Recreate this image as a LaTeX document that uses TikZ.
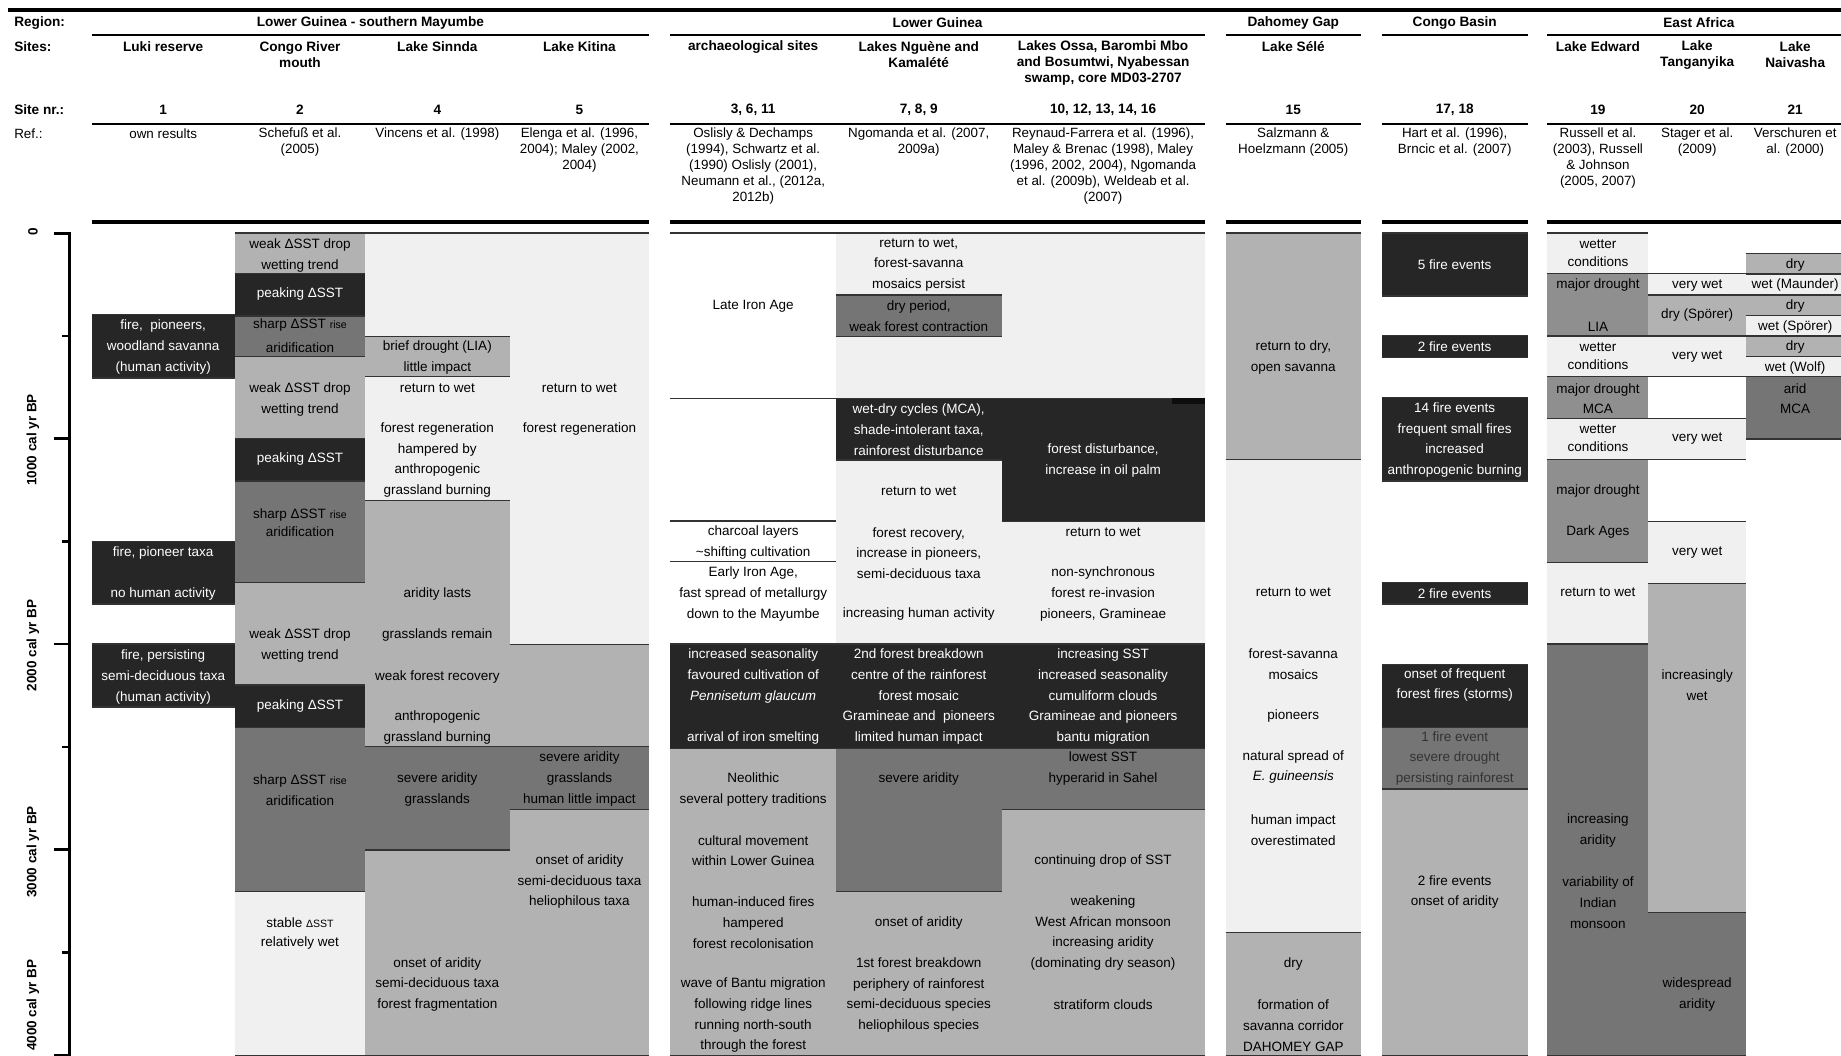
\documentclass[tikz,border=0pt]{standalone}
\usepackage{fontspec}
\setmainfont{Liberation Sans}

\definecolor{cLt}{gray}{0.94}
\definecolor{cMl}{gray}{0.70}
\definecolor{cDr}{gray}{0.56}
\definecolor{cMd}{gray}{0.46}
\definecolor{cDk}{gray}{0.15}

\newcommand{\smalltxt}[1]{{\fontsize{9}{10}\selectfont #1}}

\tikzset{
  sep/.style={draw=black!80, line width=1.2pt},
  txt/.style={align=center, inner sep=0pt, font=\fontsize{11.5}{17.6}\selectfont},
  tb/.style={txt},
  tw/.style={txt, text=white},
  tg/.style={txt, text=black!80},
  head/.style={align=center, inner sep=0pt, font=\bfseries\fontsize{11.6}{13.6}\selectfont},
  ref/.style={align=center, inner sep=0pt, font=\fontsize{11.4}{13.6}\selectfont},
  axl/.style={rotate=90, inner sep=0pt, font=\bfseries\fontsize{11.5}{12}\selectfont}
}

\begin{document}
\begin{tikzpicture}[x=1pt,y=-1pt]
\useasboundingbox (0,0) rectangle (1568,899);
\clip (0,0) rectangle (1568,899);
\fill[white] (0,0) rectangle (1568,899);

% header rules
\draw[line width=2.8pt] (7,8.5) -- (1568,8.5);
\foreach \xa/\xb in {78/553,571/1026,1044/1159,1177/1301,1318/1572} {
  \draw[line width=1.7pt] (\xa,29.8) -- (\xb,29.8);
  \draw[line width=1.7pt] (\xa,105.6) -- (\xb,105.6);
  \draw[line width=3.4pt] (\xa,188.8) -- (\xb,188.8);
}

% row labels
\node[head, anchor=west] (lab-region) at (12,19.5) {Region:};
\node[head, anchor=west] (lab-sites) at (12,39.8) {Sites:};
\node[head, anchor=west] (lab-nr) at (12,93.7) {Site nr.:};
\node[ref, anchor=west] (lab-ref) at (12,114.1) {Ref.:};

% regions
\foreach \x/\lab [count=\n] in {315.5/{Lower Guinea - southern Mayumbe}, 798.5/{Lower Guinea},
  1101.5/{Dahomey Gap}, 1239/{Congo Basin}, 1447/{East Africa}}
  \node[head] (region-\n) at (\x,19.5) {\lab};

% sites, numbers and references
\foreach \x/\ys/\site/\nr/\yr/\rf [count=\n] in {
  139/39.8/{Luki reserve}/1/114.1/{own results},
  255.5/46.6/{Congo River\\mouth}/2/120.9/{Schefuß et al.\\(2005)},
  372.5/39.8/{Lake Sinnda}/4/114.1/{Vincens et al. (1998)},
  493.5/39.8/{Lake Kitina}/5/127.7/{Elenga et al. (1996,\\2004); Maley (2002,\\2004)},
  641.5/39.8/{archaeological sites}/{3, 6, 11}/141.3/{Oslisly \& Dechamps\\(1994), Schwartz et al.\\(1990) Oslisly (2001),\\Neumann et al., (2012a,\\2012b)},
  782.5/46.6/{Lakes Nguène and\\Kamalété}/{7, 8, 9}/120.9/{Ngomanda et al. (2007,\\2009a)},
  939.5/53.4/{Lakes Ossa, Barombi Mbo\\and Bosumtwi, Nyabessan\\swamp, core MD03-2707}/{10, 12, 13, 14, 16}/141.3/{Reynaud-Farrera et al. (1996),\\Maley \& Brenac (1998), Maley\\(1996, 2002, 2004), Ngomanda\\et al. (2009b), Weldeab et al.\\(2007)},
  1101.5/39.8/{Lake Sélé}/15/120.9/{Salzmann \&\\Hoelzmann (2005)},
  1239/39.8/{}/{17, 18}/120.9/{Hart et al. (1996),\\Brncic et al. (2007)},
  1361/39.8/{Lake Edward}/19/134.5/{Russell et al.\\(2003), Russell\\\& Johnson\\(2005, 2007)},
  1445.5/46.6/{Lake\\Tanganyika}/20/120.9/{Stager et al.\\(2009)},
  1529/46.6/{Lake\\Naivasha}/21/120.9/{Verschuren et\\al. (2000)}} {
  \node[head] (site-\n) at (\x,\ys) {\site};
  \node[head] (nr-\n) at (\x,93.7) {\nr};
  \node[ref] (ref-\n) at (\x,\yr) {\rf};
}

% time axis
\draw[line width=2.5pt] (59,197.4) -- (59,899);
\foreach \t in {0,2,4,6,8}
  \draw[line width=2.3pt] (46,198.6+87.5*\t) -- (59,198.6+87.5*\t);
\foreach \t in {1,3,5,7}
  \draw[line width=2.3pt] (53,198.6+87.5*\t) -- (59,198.6+87.5*\t);
\node[axl] (ax-0) at (28,197) {0};
\foreach \k/\ty in {1/374.6, 2/549.6, 3/725.6, 4/856}
  \node[axl] (ax-\k) at (28,\ty) {\k000 cal yr BP};

% body boxes
\foreach \xa/\xb/\ya/\yb/\c in {
  % Luki reserve
  78/200/268/322/cDk, 78/200/461/514.5/cDk, 78/200/548.5/602/cDk,
  % Congo River mouth
  200/311/198.6/232.8/cMl, 200/311/232.8/269/cDk, 200/311/269/303.8/cMd,
  200/311/303.8/373.4/cMl, 200/311/373.4/409.7/cDk, 200/311/409.7/496.3/cMd,
  200/311/496.3/583.5/cMl, 200/311/583.5/619.8/cDk, 200/311/619.8/759.5/cMd,
  200/311/759.5/899/cLt,
  % Lake Sinnda
  311/434/198.6/286.8/cLt, 311/434/286.8/320.8/cMl, 311/434/320.8/426.5/cLt,
  311/434/426.5/636/cMl, 311/434/636/724/cMd, 311/434/724/899/cMl,
  % Lake Kitina
  434/553/198.6/548.8/cLt, 434/553/548.8/636/cMl, 434/553/636/689.4/cMd,
  434/553/689.4/899/cMl,
  % archaeological sites
  571/712/637.4/899/cMl,
  % Lakes Nguene and Kamalete
  712/853/198.6/251.3/cLt, 712/853/251.3/286.8/cMd, 712/853/286.8/339.3/cLt,
  712/853/339.3/391.8/cDk, 712/853/391.8/548.5/cLt, 712/853/637.4/759.5/cMd,
  712/853/759.5/899/cMl,
  % Lakes Ossa etc.
  853/1026/198.6/339.3/cLt, 853/1026/339.3/444.3/cDk, 853/1026/444.3/548.5/cLt,
  853/1026/637.4/689.4/cMd, 853/1026/689.4/899/cMl,
  % dark band across Lower Guinea
  571/1026/548.5/637.4/cDk,
  % Lake Sele
  1044/1159/198.6/391.2/cMl, 1044/1159/391.2/794.1/cLt, 1044/1159/794.1/899/cMl,
  % Congo Basin
  1177/1301/198.6/252.1/cDk, 1177/1301/285.9/304.4/cDk, 1177/1301/338.4/409.7/cDk,
  1177/1301/496/514.5/cDk, 1177/1301/565.9/619.8/cDk, 1177/1301/619.8/672/cMd,
  1177/1301/672/899/cMl,
  % Lake Edward
  1318/1404/198.6/232.8/cLt, 1318/1404/232.8/286.2/cDr, 1318/1404/286.2/320.8/cLt,
  1318/1404/320.8/356.3/cDr, 1318/1404/356.3/391.2/cLt, 1318/1404/391.2/479/cDr,
  1318/1404/479/548.5/cLt, 1318/1404/548.5/899/cMd,
  % Lake Tanganyika
  1404/1487/232.8/251.3/cLt, 1404/1487/251.3/286.2/cMl, 1404/1487/286.2/320.8/cLt,
  1404/1487/356.3/391.2/cLt, 1404/1487/444.3/496.9/cLt, 1404/1487/496.9/777.1/cMl,
  1404/1487/777.1/899/cMd,
  % Lake Naivasha
  1487/1572/215.8/233.4/cMl, 1487/1572/233.4/251.3/cLt, 1487/1572/251.3/268.9/cMl,
  1487/1572/268.9/286.2/cLt, 1487/1572/286.2/303.8/cMl, 1487/1572/303.8/320.8/cLt,
  1487/1572/320.8/374/cMd} {
  \fill[\c] (\xa,\ya) rectangle (\xb,\yb);
  \draw[sep] (\xa,\ya) -- (\xb,\ya) (\xa,\yb) -- (\xb,\yb);
}
\fill[black!95] (998,339.3) rectangle (1026,344.1);
% rules on the archaeology column
\draw[sep] (571,198.6) -- (712,198.6) (571,339.3) -- (712,339.3)
  (571,443.8) -- (712,443.8) (571,478.4) -- (712,478.4);

% Luki reserve
\foreach \y/\s/\lab [count=\n] in {
  295.5/tw/{fire,\ \ pioneers,\\woodland savanna\\(human activity)},
  470.8/tw/{fire, pioneer taxa}, 506/tw/{no human activity},
  576.5/tw/{fire, persisting\\semi-deciduous taxa\\(human activity)}}
  \node[\s] (luki-\n) at (139,\y) {\lab};

% Congo River mouth
\foreach \y/\s/\lab [count=\n] in {
  217.5/tb/{weak ΔSST drop\\wetting trend}, 250.5/tw/{peaking ΔSST},
  286/tb/{sharp ΔSST \smalltxt{rise}\\[2.4pt]aridification},
  340.3/tb/{weak ΔSST drop\\wetting trend}, 390.7/tw/{peaking ΔSST},
  445/tb/{sharp ΔSST \smalltxt{rise}\\[-2pt]aridification},
  549.5/tb/{weak ΔSST drop\\wetting trend}, 601/tw/{peaking ΔSST},
  673.2/tb/{sharp ΔSST \smalltxt{rise}\\aridification},
  795/tb/{stable \smalltxt{ΔSST}\\[-1.5pt]relatively wet}}
  \node[\s] (mouth-\n) at (255.5,\y) {\lab};

% Lake Sinnda
\foreach \y/\s/\lab [count=\n] in {
  304.4/tb/{brief drought (LIA)\\little impact}, 330.8/tb/{return to wet},
  391.9/tb/{forest regeneration\\hampered by\\anthropogenic\\grassland burning},
  506/tb/{aridity lasts}, 541/tb/{grasslands remain}, 577/tb/{weak forest recovery},
  619.8/tb/{anthropogenic\\grassland burning}, 672.6/tb/{severe aridity\\grasslands},
  838.4/tb/{onset of aridity\\semi-deciduous taxa\\forest fragmentation}}
  \node[\s] (sinnda-\n) at (372.5,\y) {\lab};

% Lake Kitina
\foreach \y/\s/\lab [count=\n] in {
  330.8/tb/{return to wet}, 365.7/tb/{forest regeneration},
  663.4/tb/{severe aridity\\grasslands\\human little impact},
  751/tb/{onset of aridity\\semi-deciduous taxa\\heliophilous taxa}}
  \node[\s] (kitina-\n) at (493.5,\y) {\lab};

% archaeological sites
\foreach \y/\s/\lab [count=\n] in {
  260.6/tb/{Late Iron Age},
  462.1/tb/{charcoal layers\\{\textasciitilde}shifting cultivation},
  505.9/tb/{Early Iron Age,\\fast spread of metallurgy\\down to the Mayumbe},
  593.3/tw/{increased seasonality\\favoured cultivation of\\\textit{Pennisetum glaucum}\\[17.6pt]arrival of iron smelting},
  672.2/tb/{Neolithic\\several pottery traditions},
  724.6/tb/{cultural movement\\within Lower Guinea},
  785.9/tb/{human-induced fires\\hampered\\forest recolonisation},
  864.7/tb/{wave of Bantu migration\\following ridge lines\\running north-south\\through the forest}}
  \node[\s] (arch-\n) at (641.5,\y) {\lab};

% Lakes Nguene and Kamalete
\foreach \y/\s/\lab [count=\n] in {
  225.5/tb/{return to wet,\\forest-savanna\\mosaics persist},
  269.5/tb/{dry period,\\weak forest contraction},
  365.9/tw/{wet-dry cycles (MCA),\\shade-intolerant taxa,\\rainforest disturbance},
  418.2/tb/{return to wet},
  470.9/tb/{forest recovery,\\increase in pioneers,\\semi-deciduous taxa},
  523.3/tb/{increasing human activity},
  593.3/tw/{2nd forest breakdown\\centre of the rainforest\\forest mosaic\\Gramineae and\ \ pioneers\\limited human impact},
  663.6/tb/{severe aridity}, 786/tb/{onset of aridity},
  847.4/tb/{1st forest breakdown\\periphery of rainforest\\semi-deciduous species\\heliophilous species}}
  \node[\s] (nguene-\n) at (782.5,\y) {\lab};

% Lakes Ossa etc.
\foreach \y/\s/\lab [count=\n] in {
  392.2/tw/{forest disturbance,\\increase in oil palm},
  453.4/tb/{return to wet},
  505.9/tb/{non-synchronous\\forest re-invasion\\pioneers, Gramineae},
  593.3/tw/{increasing SST\\increased seasonality\\cumuliform clouds\\Gramineae and pioneers\\bantu migration},
  654.8/tb/{lowest SST\\hyperarid in Sahel},
  733.1/tb/{continuing drop of SST},
  794.7/tb/{weakening\\West African monsoon\\increasing aridity\\(dominating dry season)},
  856/tb/{stratiform clouds}}
  \node[\s] (ossa-\n) at (939.5,\y) {\lab};

% Lake Sele
\foreach \y/\s/\lab [count=\n] in {
  304.5/tb/{return to dry,\\open savanna}, 504.5/tb/{return to wet},
  565.7/tb/{forest-savanna\\mosaics}, 609.9/tb/{pioneers},
  653.3/tb/{natural spread of\\\textit{E. guineensis}},
  707.3/tb/{human impact\\overestimated}, 821/tb/{dry},
  873.5/tb/{formation of\\savanna corridor\\DAHOMEY GAP}}
  \node[\s] (sele-\n) at (1101.5,\y) {\lab};

% Congo Basin
\foreach \y/\s/\lab [count=\n] in {
  225.7/tw/{5 fire events}, 295.6/tw/{2 fire events},
  374.7/tw/{14 fire events\\frequent small fires\\increased\\anthropogenic burning},
  506/tw/{2 fire events},
  583.4/tw/{onset of frequent\\forest fires (storms)},
  646/tg/{1 fire event\\severe drought\\persisting rainforest},
  759.8/tb/{2 fire events\\onset of aridity}}
  \node[\s] (basin-\n) at (1239,\y) {\lab};

% Lake Edward
\foreach \y/\s/\lab [count=\n] in {
  215.6/tb/{wetter\\[-2.6pt]conditions}, 243/tb/{major drought}, 278.3/tb/{LIA},
  303.4/tb/{wetter\\[-2.6pt]conditions}, 339.6/tb/{major drought\\MCA},
  373.4/tb/{wetter\\[-2.6pt]conditions}, 418.2/tb/{major drought},
  453.4/tb/{Dark Ages}, 504.5/tb/{return to wet},
  707.3/tb/{increasing\\aridity}, 768.7/tb/{variability of\\Indian\\monsoon}}
  \node[\s] (edward-\n) at (1361,\y) {\lab};

% Lake Tanganyika
\foreach \y/\s/\lab [count=\n] in {
  243/tb/{very wet}, 268.6/tb/{dry (Spörer)}, 303.8/tb/{very wet},
  373.7/tb/{very wet}, 470.8/tb/{very wet},
  583.4/tb/{increasingly\\wet}, 847.2/tb/{widespread\\aridity}}
  \node[\s] (tanga-\n) at (1445.5,\y) {\lab};

% Lake Naivasha
\foreach \y/\s/\lab [count=\n] in {
  225.7/tb/{dry}, 243/tb/{wet (Maunder)}, 260.6/tb/{dry}, 278.3/tb/{wet (Spörer)},
  295.6/tb/{dry}, 313.2/tb/{wet (Wolf)}, 339.6/tb/{arid\\MCA}}
  \node[\s] (naiv-\n) at (1529,\y) {\lab};

\end{tikzpicture}
\end{document}
